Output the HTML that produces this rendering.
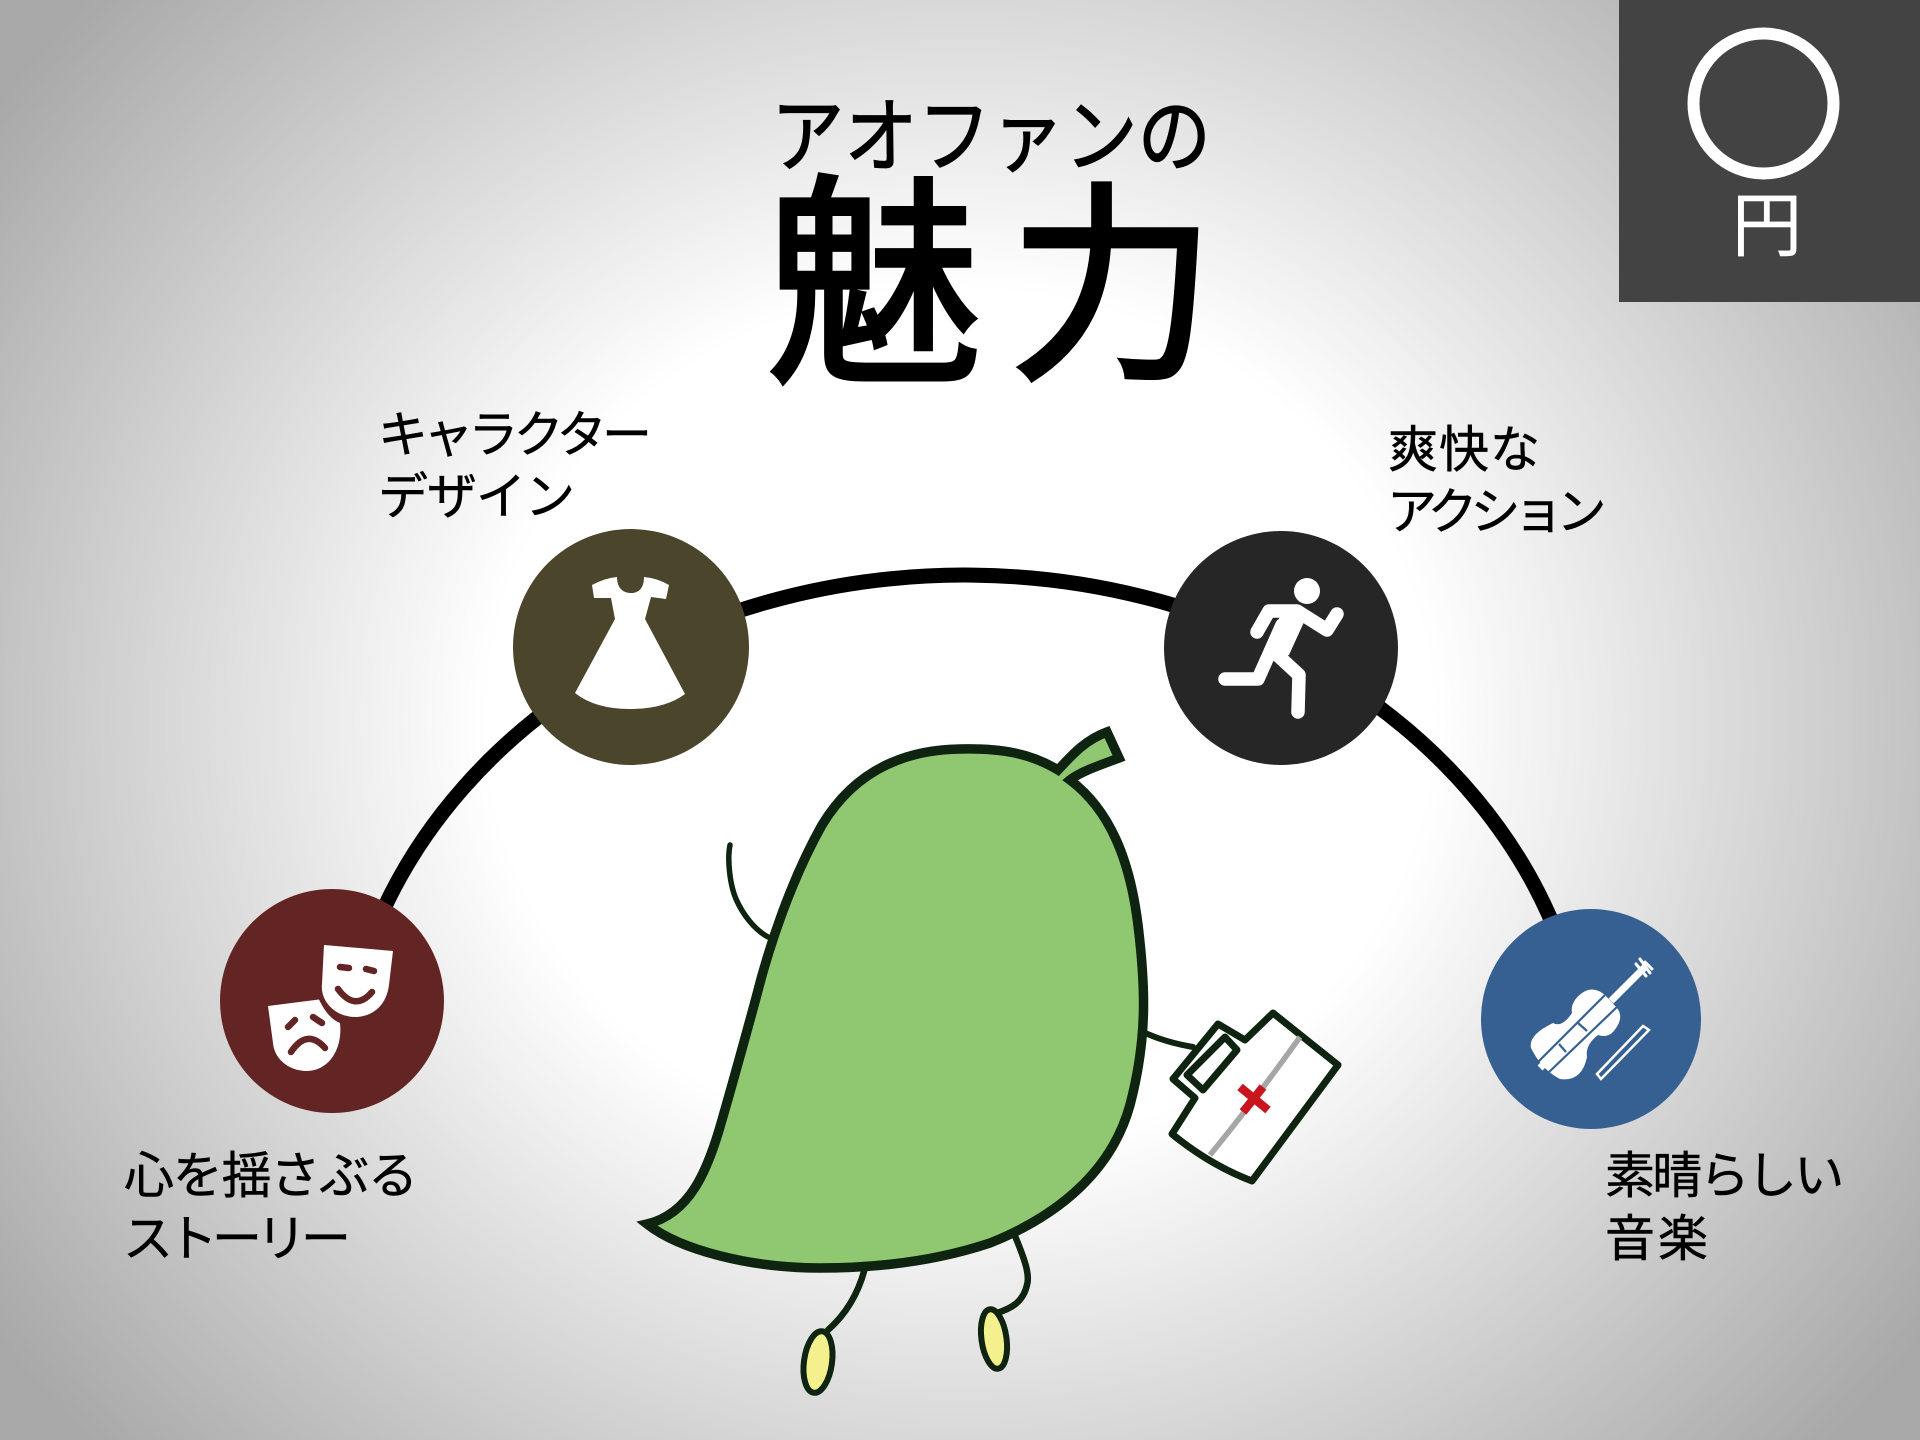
<!DOCTYPE html>
<html lang="ja"><head><meta charset="utf-8"><title>アオファンの魅力</title>
<style>
html,body{margin:0;padding:0;width:1920px;height:1440px;overflow:hidden;background:#fff}
svg{display:block;position:absolute;left:0;top:0}
text{font-family:"Liberation Sans","Noto Sans CJK JP",sans-serif;fill:#000}
.l{font-size:50px;stroke:#000;stroke-width:.5px}
</style></head><body>
<svg width="1920" height="1440" viewBox="0 0 1920 1440" xmlns="http://www.w3.org/2000/svg">
<defs>
<radialGradient id="bg" gradientUnits="userSpaceOnUse" cx="0" cy="0" r="1" gradientTransform="translate(960 720) scale(1180 1075)">
<stop offset="0" stop-color="#fff"/><stop offset="0.4" stop-color="#fff"/><stop offset="1" stop-color="#a8a8a8"/>
</radialGradient>
</defs>
<rect width="1920" height="1440" fill="url(#bg)"/>
<rect x="1619" y="0" width="301" height="302" fill="#434343"/>
<circle cx="1763.5" cy="103.5" r="70" fill="none" stroke="#fff" stroke-width="12"/>
<text x="1732" y="250" font-size="70" style="fill:#fff;stroke:#fff;stroke-width:.5px">円</text>

<text x="771" y="165" font-size="82" textLength="440" lengthAdjust="spacingAndGlyphs" style="stroke:#000;stroke-width:1.2px">アオファンの</text>
<text transform="translate(768 364) scale(.95 1)" font-size="224" style="stroke:#000;stroke-width:5px">魅</text>
<text transform="translate(1009 362) scale(.92 .95)" font-size="224" style="stroke:#000;stroke-width:5px">力</text>

<text class="l" x="378" y="452" letter-spacing="-4.8">キャラクター</text>
<text class="l" x="378" y="514" letter-spacing="-1">デザイン</text>
<text class="l" x="1388" y="467" letter-spacing="1">爽快な</text>
<text class="l" x="1387" y="529" letter-spacing="-7">アクション</text>
<text class="l" x="124" y="1193" letter-spacing="-1.2">心を揺さぶる</text>
<text class="l" x="123" y="1256" letter-spacing="-5.5">ストーリー</text>
<text class="l" x="1605" y="1193" letter-spacing="-2.7">素晴らしい</text>
<text class="l" x="1605" y="1256" letter-spacing="3">音楽</text>

<path d="M375 929 A 624 525 0 0 1 1560 942" fill="none" stroke="#000" stroke-width="15"/>

<circle cx="332" cy="1001" r="112" fill="#632524"/>
<circle cx="631" cy="647" r="118" fill="#4b452c"/>
<circle cx="1281" cy="648" r="117" fill="#262626"/>
<circle cx="1591" cy="1019" r="110" fill="#376092"/>

<!-- masks -->
<g fill="#fff">
<path d="M324 945 L393 951 L389 985 C386 1008 370 1017 355 1017 C335 1017 320 1001 322 984 Z"/>
<path d="M268 1006 L319 999.5 C325 1012 332 1020 340 1023 C343 1050 328 1071 307 1071 C288 1071 274 1058 273 1043 Z"/>
</g>
<g fill="none" stroke="#632524" stroke-width="6.5" stroke-linecap="round">
<path d="M340 967 L349 968 M366 969 L374 971 M338 989 Q355 1012 372 992" />
<path d="M288 1027 L295 1020 M313 1017 L322 1023 M291 1052 Q307 1028 325 1048"/>
</g>

<!-- dress -->
<path fill="#fff" d="M592 585 Q605 578 617 577 C617 588 623 593 631 593 C639 593 644 588 644 577 Q657 578 669 585 L666 599 L651 597 L645 619 L685 694 Q665 709 630 709 Q595 709 575 693 L615 619 L611 598 L594 598 Z"/>

<!-- runner -->
<circle cx="1307" cy="591" r="13" fill="#fff"/>
<g fill="none" stroke="#fff" stroke-width="13.5" stroke-linecap="round" stroke-linejoin="round">
<path d="M1257 632 L1269 611 L1297 611 L1327 630 L1337 614"/>
<path d="M1282 625 L1258 679 L1225 679"/>
<path d="M1272 650 L1299 675 L1298 712"/>
</g>
<path fill="#fff" d="M1282 611 L1304 622 L1289 655 L1274 661 L1265 653 Z"/>

<!-- violin -->
<path fill="#fff" d="M1582 993 Q1593 985 1605 995 L1617 1008 Q1625 1018 1613 1032 Q1607 1038 1598 1035 Q1585 1045 1587 1057 Q1582 1082 1560 1079 Q1542 1070 1531 1048 Q1528 1035 1553 1023 Q1562 1028 1572 1013 Q1570 1002 1582 993 Z"/>
<path fill="none" stroke="#376092" stroke-width="2.2" d="M1537 1063 L1605 995 M1548 1073 L1617 1007 M1559 1044 L1566 1052 M1578 1023 L1587 1031"/>
<path fill="none" stroke="#fff" stroke-width="7" d="M1540 1068 L1552 1056 M1611 1001 L1645 967"/>
<path fill="none" stroke="#fff" stroke-width="3" stroke-linecap="round" d="M1640 959 L1650 973 M1636 964 L1646 976 M1645 962 L1652 969"/>
<path fill="none" stroke="#fff" stroke-width="2.5" d="M1643 1026 L1597 1074 L1601 1079 L1649 1030 Z"/>

<!-- character -->
<g stroke="#0e2410" stroke-linecap="round" stroke-linejoin="round" fill="none">
<path d="M730 845 C727 860 730 885 736 899 C743 915 755 930 768 937" stroke-width="5.5"/>
<path d="M1143 1032 C1160 1040 1175 1044 1193 1047" stroke-width="6"/>
<path d="M865 1268 C858 1295 845 1315 828 1330" stroke-width="6.5"/>
<path d="M1015 1236 C1025 1260 1030 1275 1027 1285 C1023 1302 1012 1308 997 1313" stroke-width="6.5"/>
</g>
<path fill="#8fc870" stroke="#0e2410" stroke-width="9.5" stroke-linejoin="miter" d="M647 1224 C690 1214 708 1170 722 1120 C735 1075 744 1042 756 998 C768 950 790 882 822 825 C848 782 890 750 960 749 C1000 748 1030 753 1058 770 C1072 755 1085 740 1107 732 L1119 758 C1100 765 1080 772 1070 780 C1110 810 1130 860 1138 925 C1146 990 1147 1040 1130 1105 C1112 1170 1060 1215 990 1243 C930 1263 870 1268 820 1268 C750 1268 680 1250 647 1224 Z"/>
<ellipse cx="818" cy="1362" rx="14" ry="31" transform="rotate(8 818 1362)" fill="#f5f08e" stroke="#0e2410" stroke-width="6"/>
<ellipse cx="994" cy="1339" rx="12.5" ry="30" transform="rotate(-8 994 1339)" fill="#f5f08e" stroke="#0e2410" stroke-width="6"/>

<!-- bag -->
<path fill="#fff" stroke="#0e2410" stroke-width="7" stroke-linejoin="round" d="M1273 1013 L1338 1065 L1252 1181 Q1210 1165 1172 1134 L1195 1098 L1173 1079 L1218 1024 L1245 1040 Z"/>
<path fill="none" stroke="#0e2410" stroke-width="7" stroke-linejoin="round" d="M1225 1037 L1237 1050 L1203 1090 L1187 1075 Z"/>
<path fill="none" stroke="#a6a6a6" stroke-width="5.5" d="M1300 1037 Q1255 1100 1210 1155"/>
<path fill="none" stroke="#c8151e" stroke-width="8.5" d="M1240 1087 L1268 1110 M1263 1087 L1243 1112"/>
</svg>
</body></html>
